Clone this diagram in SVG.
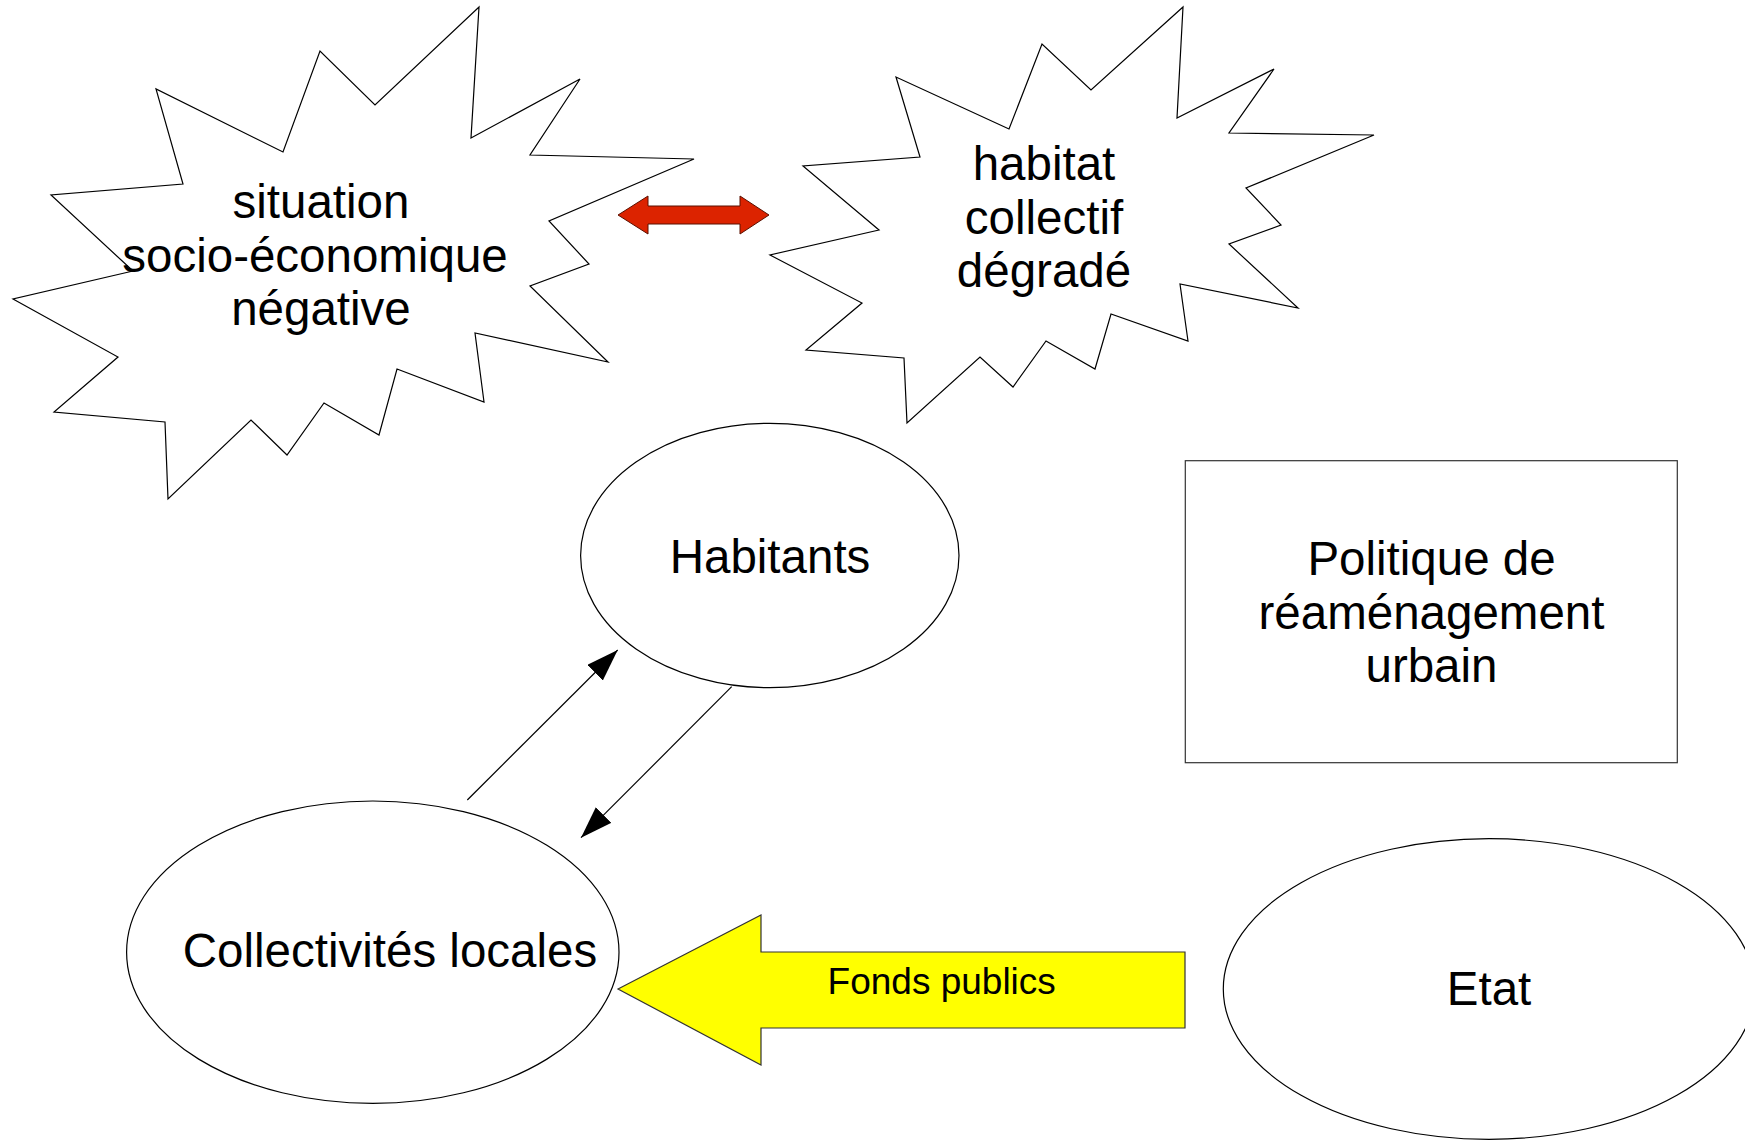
<svg xmlns="http://www.w3.org/2000/svg" width="1745" height="1140" viewBox="0 0 1745 1140">
  <style>
    .shape { fill: #ffffff; stroke: #000000; stroke-width: 1.2; }
    .box { fill: #ffffff; stroke: #333333; stroke-width: 1.2; }
    .lbl { font-family: "Liberation Sans", Arial, sans-serif; font-size: 47.5px; fill: #000000; text-anchor: middle; }
    .small { font-family: "Liberation Sans", Arial, sans-serif; font-size: 37px; fill: #000000; text-anchor: middle; }
    .conn { stroke: #000000; stroke-width: 1.2; fill: none; }
  </style>
  <defs>
    <marker id="arrow" markerUnits="userSpaceOnUse" markerWidth="34" markerHeight="24" refX="32" refY="11" orient="auto">
      <path d="M0,0 L32,11 L0,22 z" fill="#000000"/>
    </marker>
  </defs>
  <rect x="0" y="0" width="1745" height="1140" fill="#ffffff"/>

  <g id="star-situation">
    <polygon class="shape" points="479,7 471,138 580,79 530,155 694,159 549,221 589,264 530,286 608,362 475,333 484,402 397,369 379,435 324,403 287,455 251,420 168,499 165,422 54,412 118,357 13,299 133,271 51,195 183,184 156,89 283,152 320,51 375,105"/>
    <text class="lbl" x="321" y="218">situation</text>
    <text class="lbl" x="315" y="271.5">socio-économique</text>
    <text class="lbl" x="321" y="325">négative</text>
  </g>

  <g id="star-habitat">
    <polygon class="shape" points="1183,7 1177,118 1274,69 1229,133 1374,135 1246,188 1281,225 1229,244 1298,308 1180,284 1188,341 1111,314 1095,369 1046,341 1013,387 980,357 907,423 904,358 806,350 862,303 770,255 879,230 803,166 920,157 896,77 1009,129 1042,44 1091,90"/>
    <text class="lbl" x="1044" y="180">habitat</text>
    <text class="lbl" x="1044" y="233.5">collectif</text>
    <text class="lbl" x="1044" y="287">dégradé</text>
  </g>

  <g id="red-double-arrow">
    <polygon points="618,215 648,196 648,206 740,206 740,196 769,215 740,234 740,224 648,224 648,234" fill="#dc2300" stroke="#5a1000" stroke-width="1"/>
  </g>

  <g id="habitants">
    <ellipse class="shape" cx="769.8" cy="555.5" rx="189.2" ry="132.2"/>
    <text class="lbl" x="770" y="572.7">Habitants</text>
  </g>

  <g id="politique">
    <rect class="box" x="1185.3" y="460.7" width="492" height="302"/>
    <text class="lbl" x="1431.5" y="575">Politique de</text>
    <text class="lbl" x="1431.5" y="628.5">réaménagement</text>
    <text class="lbl" x="1431.5" y="682">urbain</text>
  </g>

  <g id="collectivites">
    <ellipse class="shape" cx="372.8" cy="952.2" rx="246.2" ry="151.2"/>
    <text class="lbl" x="390" y="966.7">Collectivités locales</text>
  </g>

  <g id="etat">
    <ellipse class="shape" cx="1489" cy="989" rx="265.7" ry="150.3"/>
    <text class="lbl" x="1489" y="1005">Etat</text>
  </g>

  <g id="fonds-publics">
    <polygon points="618,989 761,915 761,952 1185,952 1185,1028 761,1028 761,1065" fill="#ffff00" stroke="#333333" stroke-width="1.2"/>
    <text class="small" x="941.7" y="994">Fonds publics</text>
  </g>

  <g id="connectors">
    <line class="conn" x1="467.3" y1="800" x2="617.7" y2="650" marker-end="url(#arrow)"/>
    <line class="conn" x1="731.7" y1="686.7" x2="581" y2="837.7" marker-end="url(#arrow)"/>
  </g>
</svg>
